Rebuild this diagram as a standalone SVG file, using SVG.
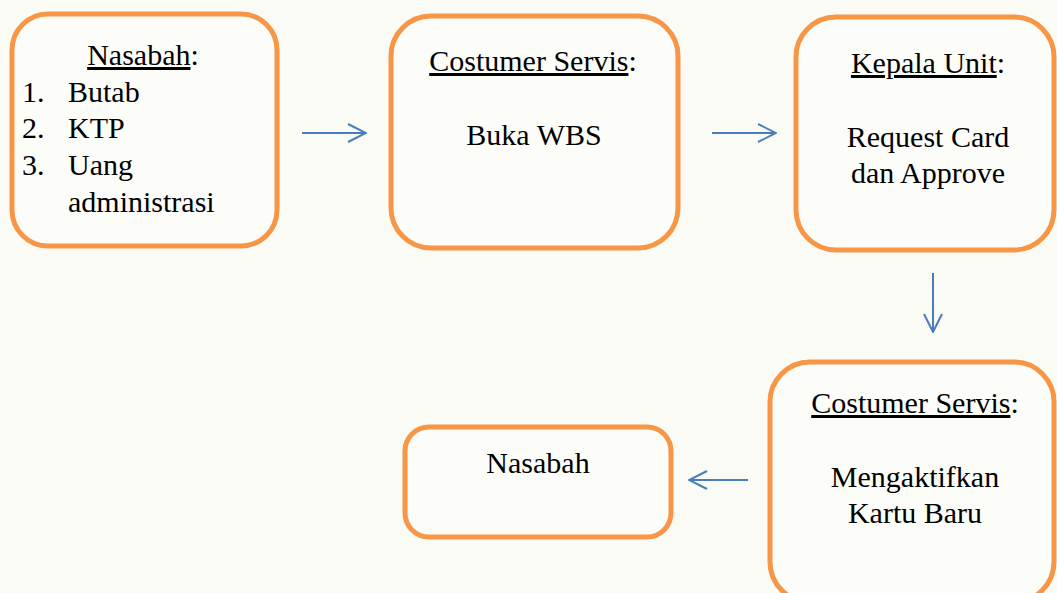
<svg xmlns="http://www.w3.org/2000/svg" width="1057" height="593" viewBox="0 0 1057 593">
<style>
.box{fill:#fcfcf8;stroke:#f79646;stroke-width:5}
.t{font-family:"Liberation Serif","Times New Roman",serif;font-size:30px;fill:#000}
.c{text-anchor:middle}
.u{text-decoration:underline}
.arr{fill:none;stroke:#4a7ebb;stroke-width:2}
</style>
<defs>
<marker id="ah" viewBox="0 0 20 20" refX="19" refY="10" markerWidth="20" markerHeight="20" markerUnits="userSpaceOnUse" orient="auto">
<path d="M1,1 L19,10 L1,19" fill="none" stroke="#4a7ebb" stroke-width="2"/>
</marker>
</defs>
<rect width="1057" height="593" fill="#fbfbf6"/>
<g id="n1">
<rect class="box" x="12" y="14" width="265" height="232" rx="36"/>
<text class="t c" x="143" y="65"><tspan class="u">Nasabah</tspan>:</text>
<text class="t" x="22" y="102">1.</text>
<text class="t" x="68" y="102">Butab</text>
<text class="t" x="22" y="138">2.</text>
<text class="t" x="68" y="138">KTP</text>
<text class="t" x="22" y="175">3.</text>
<text class="t" x="68" y="175">Uang</text>
<text class="t" x="68" y="212">administrasi</text>
</g>
<g id="n2">
<rect class="box" x="391" y="16" width="287" height="232" rx="40"/>
<text class="t c" x="533" y="71"><tspan class="u">Costumer Servis</tspan>:</text>
<text class="t c" x="534" y="145">Buka WBS</text>
</g>
<g id="n3">
<rect class="box" x="796" y="17" width="258" height="233" rx="40"/>
<text class="t c" x="928" y="73"><tspan class="u">Kepala Unit</tspan>:</text>
<text class="t c" x="928" y="147">Request Card</text>
<text class="t c" x="928" y="183">dan Approve</text>
</g>
<g id="n4">
<rect class="box" x="770" y="362" width="284" height="240" rx="40"/>
<text class="t c" x="915" y="413"><tspan class="u">Costumer Servis</tspan>:</text>
<text class="t c" x="915" y="487">Mengaktifkan</text>
<text class="t c" x="915" y="523">Kartu Baru</text>
</g>
<g id="n5">
<rect class="box" x="405" y="427" width="266" height="110" rx="24"/>
<text class="t c" x="538" y="473">Nasabah</text>
</g>
<g id="connectors">
<line class="arr" x1="302" y1="133" x2="366" y2="133" marker-end="url(#ah)"/>
<line class="arr" x1="712" y1="133" x2="776" y2="133" marker-end="url(#ah)"/>
<line class="arr" x1="933" y1="273" x2="933" y2="332" marker-end="url(#ah)"/>
<line class="arr" x1="748" y1="480" x2="689" y2="480" marker-end="url(#ah)"/>
</g>
</svg>
